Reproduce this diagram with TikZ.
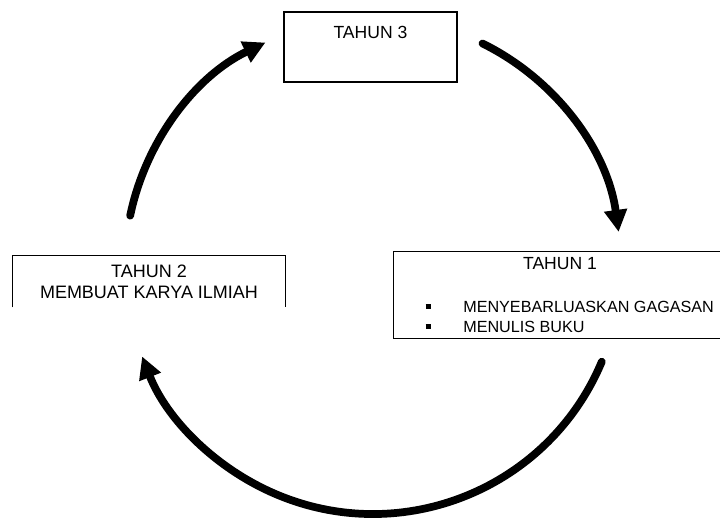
\documentclass[tikz,border=0pt]{standalone}
\usepackage{fontspec}
\setmainfont{Liberation Sans}
\usetikzlibrary{arrows.meta}

\newcommand{\sqbullet}{\makebox[0.975cm][l]{\hspace{1pt}\raisebox{2.2pt}{\rule{4pt}{3.6pt}}}}

\begin{document}
\begin{tikzpicture}[
  every node/.style={font=\fontsize{12.5}{15}\selectfont},
  yearbox/.style={draw, line width=0.9pt, minimum width=4.325cm, inner sep=0pt, text height=0.675cm, text depth=1.075cm},
  openbox/.style={inner sep=0pt, align=center},
  itemlist/.style={font=\fontsize{11.5}{14.2}\selectfont, align=left, inner sep=0pt, anchor=west},
  frame/.style={line width=0.9pt},
  cyc/.style={line width=5.5pt, line cap=round, -{Triangle[length=5.5mm,width=5.5mm]}},
]
\useasboundingbox (0,0) rectangle (18,13);

\node[yearbox] (t3) at (9.2625,11.825) {TAHUN 3};

\node[openbox, minimum width=6.8cm, minimum height=1.275cm, font=\fontsize{12.8}{15}\selectfont] (t2) at (3.725,5.9625) {TAHUN 2\\MEMBUAT KARYA ILMIAH};
\draw[frame] (t2.south west) |- (t2.north) -| (t2.south east);

\node[openbox, minimum width=8.15cm, minimum height=2.15cm] (t1) at (13.925,5.625) {};
\draw[frame] (t1.north east) -- (t1.north west) -- (t1.south west) -- (t1.south east);
\node (t1title) at (14.0,6.4) {TAHUN 1};
\node[itemlist] (t1list) at (10.6,5.075) {\sqbullet MENYEBARLUASKAN GAGASAN\\\sqbullet MENULIS BUKU};

% cycle arrows
\coordinate (ctr) at (9.325,6.35);
\path (ctr) ++(168.3:6.2cm) coordinate (a1);
\path (ctr) ++(63.8:6.2cm) coordinate (a2);
\path (ctr) ++(-22.7:6.2cm) coordinate (a3);
\draw[cyc] (a1) arc[start angle=168.3, end angle=115.7, radius=6.2cm];
\draw[cyc] (a2) arc[start angle=63.8, end angle=7.9, radius=6.2cm];
\draw[cyc] (a3) arc[start angle=-22.7, end angle=-158.6, radius=6.2cm];

\end{tikzpicture}
\end{document}
